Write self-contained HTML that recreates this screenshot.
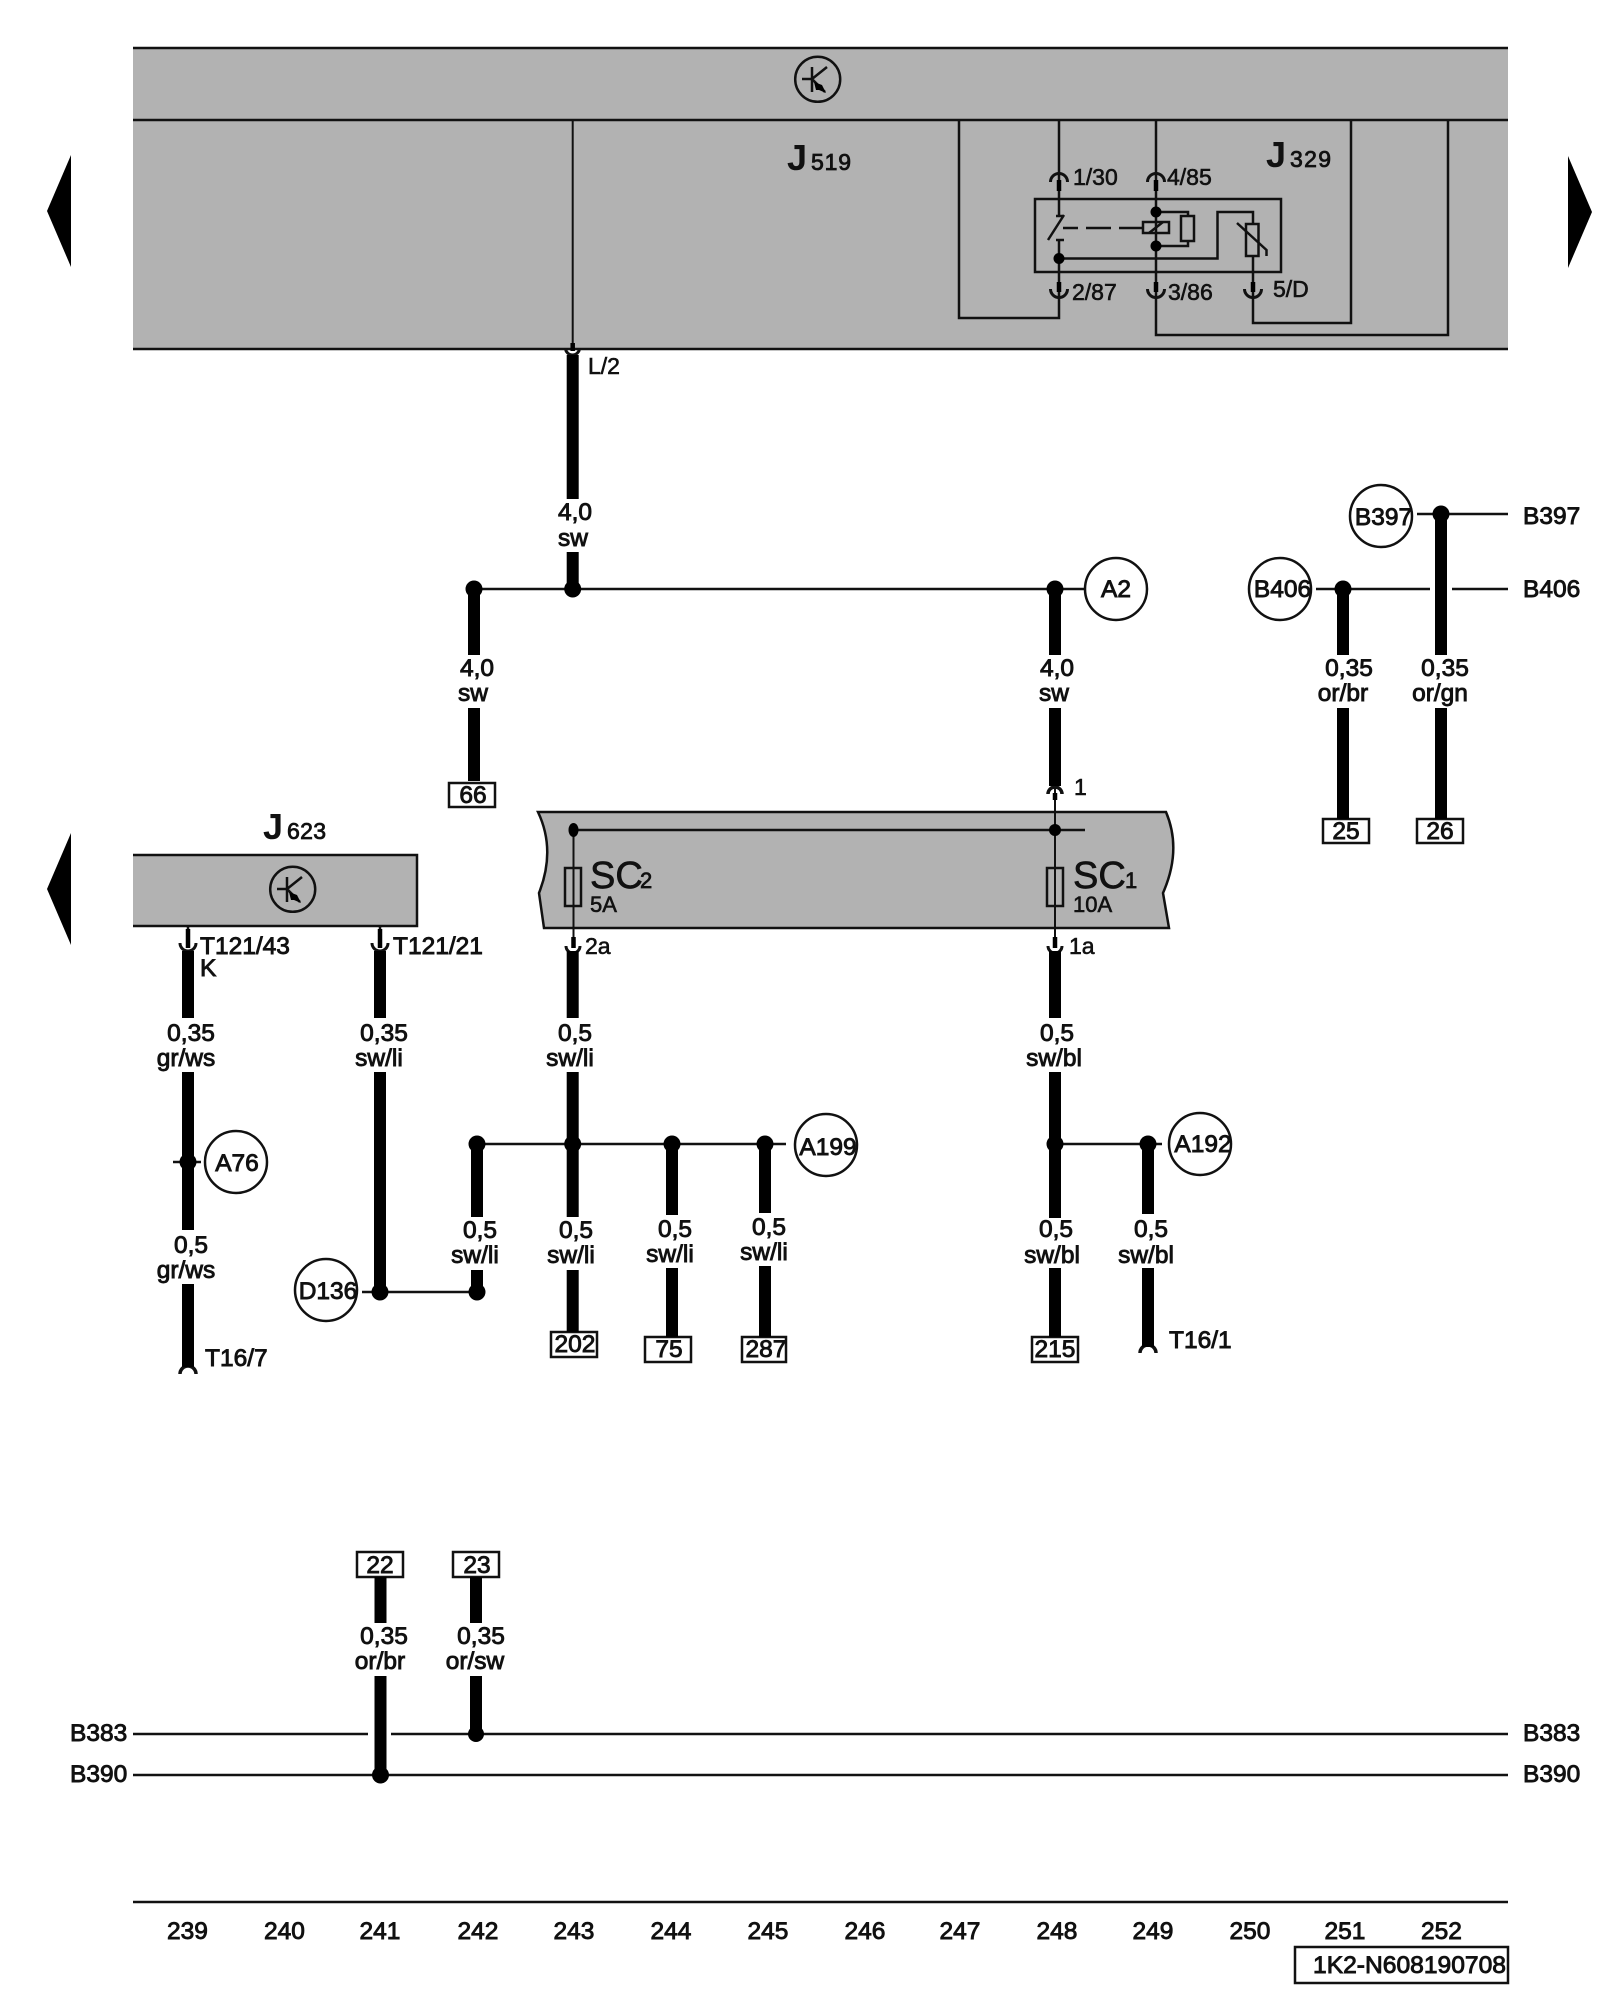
<!DOCTYPE html>
<html><head><meta charset="utf-8"><style>
html,body{margin:0;padding:0;background:#fff}
svg{display:block}
text{font-family:"Liberation Sans",sans-serif;fill:#111}
.b{font-size:24.5px;stroke:#111;stroke-width:.9px}
.m{font-size:24.5px;stroke:#111;stroke-width:.9px;text-anchor:middle}
.r{font-size:23px;stroke:#111;stroke-width:.6px}
.n{font-size:24.5px;stroke:#111;stroke-width:.9px;text-anchor:middle}
.s{font-size:23px;stroke:#111;stroke-width:.8px}
</style></head><body>
<svg width="1600" height="2000" viewBox="0 0 1600 2000" xmlns="http://www.w3.org/2000/svg">
<rect width="1600" height="2000" fill="#fff"/>
<!-- gray blocks -->
<rect x="133" y="48" width="1375" height="301" fill="#b2b2b2"/>
<rect x="133" y="855" width="284" height="71" fill="#b2b2b2"/>
<path d="M538 812 L1166 812 Q1182 850 1163 893 L1169 928 L544 928 L539 893 Q556 850 538 812 Z" fill="#b2b2b2" stroke="#111" stroke-width="2.5"/>
<!-- arrows -->
<g fill="#000">
<polygon points="47,211 71,155 71,267"/>
<polygon points="1592,212 1568,156 1568,268"/>
<polygon points="47,889 71,833 71,945"/>
</g>
<g fill="none" stroke="#111" stroke-width="2.5">
<path d="M133 48H1508M133 120H1508M133 349H1508"/>
<path d="M133 855H417V926H133"/>
<!-- J519 inner -->
<path d="M572.7 120V345" stroke-width="2"/>
<path d="M959 120V318H1059V240M1059 120V216M1156 120V335H1448V120M1253 256V323H1351V120"/>
<rect x="1035" y="199" width="246" height="73"/>
<path d="M1056 216H1064M1064 215L1048 240M1056 240H1064"/>
<path d="M1063 228H1078M1086 228H1111M1119 228H1143"/>
<rect x="1143" y="222" width="26" height="11"/>
<path d="M1149 233L1163 222M1156 212H1188V216M1156 246H1188V241"/>
<rect x="1181" y="216" width="13" height="25"/>
<path d="M1059 258.5H1217.5V212H1253V224"/>
<rect x="1246" y="224" width="12.5" height="32"/>
<path d="M1237 223L1266.5 250V256"/>
<!-- connector cups J329 -->
<path stroke-width="3" d="M1050.5 182A8.5 8.5 0 0 1 1067.5 182M1147.5 182A8.5 8.5 0 0 1 1164.5 182M1050.5 289A8.5 8.5 0 0 0 1067.5 289M1147.5 289A8.5 8.5 0 0 0 1164.5 289M1244.5 289A8.5 8.5 0 0 0 1261.5 289"/>
<!-- horizontal thin wires -->
<path d="M474 589H1085M1316 589H1430M1452 589H1508M1417 514H1508"/>
<path d="M477 1144H786M1055 1144H1162M362 1292H477"/>
<path d="M173 1162H201"/>
<path d="M133 1734H368M391 1734H1508M133 1775H1508M133 1902H1508"/>
<path d="M573.5 830H1085"/>
<path d="M573.5 830V937M1055 788V948" stroke-width="2"/>
<rect x="565" y="868" width="16" height="38"/>
<rect x="1047" y="868" width="16" height="38"/>
<!-- boxes -->
<rect x="449" y="783" width="46" height="24"/>
<rect x="551" y="1332" width="46" height="25"/>
<rect x="645" y="1337" width="46" height="25"/>
<rect x="742" y="1337" width="44" height="25"/>
<rect x="1032" y="1337" width="46" height="25"/>
<rect x="1323" y="819" width="46" height="24"/>
<rect x="1417" y="819" width="46" height="24"/>
<rect x="357" y="1552" width="46" height="25"/>
<rect x="453" y="1552" width="46" height="25"/>
<rect x="1295" y="1947" width="213" height="36"/>
<!-- circles -->
<circle cx="1116" cy="589" r="31" fill="#fff"/>
<circle cx="1381" cy="516" r="31" fill="#fff"/>
<circle cx="1280" cy="589" r="31" fill="#fff"/>
<circle cx="826" cy="1145" r="31" fill="#fff"/>
<circle cx="1200" cy="1144" r="31" fill="#fff"/>
<circle cx="236" cy="1162" r="31" fill="#fff"/>
<circle cx="326" cy="1290" r="31" fill="#fff"/>
<!-- transistor -->
<circle cx="817.7" cy="79.3" r="22.5"/>
<path d="M812 67V92M802 79H812M812 79L827 67M813 80L825 92"/>
<circle cx="292.7" cy="889.3" r="22.5"/>
<path d="M287 877V902M277 889H287M287 889L302 877M288 890L300 902"/>
<!-- cups -->
<path stroke-width="3" d="M566 946A7 7 0 0 0 580 946M1048 946A7 7 0 0 0 1062 946M180 943A8 8 0 0 0 196 943M372 943A8 8 0 0 0 388 943M565.5 348A7 7 0 0 0 579.5 348"/>
<path stroke-width="3.5" d="M1048 794A7 7 0 0 1 1062 794M180 1374A8 8 0 0 1 196 1374M1140 1353A8 8 0 0 1 1156 1353"/>
<path d="M188 926V945M380 926V945"/>
</g>
<!-- thick wires -->
<g stroke="#000" stroke-width="12" fill="none">
<path d="M572.7 355V499M572.7 552V589"/>
<path d="M474 589V655M474 708V781"/>
<path d="M1055 589V655M1055 708V786"/>
<path d="M1343 589V655M1343 708V819M1441 514V655M1441 708V819"/>
<path d="M188 951V1018M188 1072V1230M188 1284V1367"/>
<path d="M380 951V1018M380 1072V1292"/>
<path d="M477 1144V1217M477 1270V1292"/>
<path d="M572.7 951V1018M572.7 1072V1217M572.7 1270V1332"/>
<path d="M672 1144V1215M672 1268V1337M765 1144V1213M765 1266V1337"/>
<path d="M1055 951V1018M1055 1072V1218M1055 1268V1337"/>
<path d="M1148 1144V1214M1148 1268V1347"/>
<path d="M380.5 1577V1623M380.5 1676V1775M476 1577V1623M476 1676V1734"/>
</g>
<!-- stubs -->
<g stroke="#000" stroke-width="4.5" fill="none">
<path d="M1059 180V191M1156 180V191M1059 282V292M1156 282V292M1253 282V292"/>
<path d="M572.7 343V351M573.5 937V948M1055 793V800M1055 937V948M188 929V948M380 929V948"/>
</g>
<!-- dots -->
<g fill="#000">
<circle cx="572.7" cy="589" r="8.5"/><circle cx="474" cy="589" r="8.5"/><circle cx="1055" cy="589" r="8.5"/>
<circle cx="1343" cy="589" r="8.5"/><circle cx="1441" cy="514" r="8.5"/>
<circle cx="477" cy="1144" r="8.5"/><circle cx="572.7" cy="1144" r="8.5"/><circle cx="672" cy="1144" r="8.5"/><circle cx="765" cy="1144" r="8.5"/>
<circle cx="1055" cy="1144" r="8.5"/><circle cx="1148" cy="1144" r="8.5"/>
<circle cx="188" cy="1162" r="8.5"/><circle cx="380" cy="1292" r="8.5"/><circle cx="477" cy="1292" r="8.5"/>
<circle cx="380.5" cy="1775" r="8.5"/><circle cx="476" cy="1734" r="8"/>
<ellipse cx="573.5" cy="830" rx="5" ry="7"/><circle cx="1055" cy="830" r="6"/>
<circle cx="1156" cy="212" r="5.5"/><circle cx="1156" cy="246" r="5.5"/><circle cx="1059" cy="258.5" r="5.5"/>
<polygon points="814,82 822,85 826,93 819,90 816,90"/><polygon points="289,892 297,895 301,903 294,900 291,900"/>
</g>
<!-- J labels -->
<text x="787" y="170" font-size="36" font-weight="bold">J</text><text class="s" x="811" y="170" textLength="40">519</text>
<text x="1266" y="167" font-size="36" font-weight="bold">J</text><text class="s" x="1290" y="167" textLength="41">329</text>
<text x="263" y="839" font-size="36" font-weight="bold">J</text><text class="s" x="287" y="839" textLength="39">623</text>
<text class="r" x="1073" y="185">1/30</text><text class="r" x="1167" y="185">4/85</text>
<text class="r" x="1072" y="300">2/87</text><text class="r" x="1168" y="300">3/86</text><text class="r" x="1273" y="297">5/D</text>
<text class="r" x="588" y="374">L/2</text>
<!-- SC -->
<text x="590" y="888" font-size="38" stroke="#111" stroke-width=".7">SC</text><text x="640" y="888" font-size="22" stroke="#111" stroke-width=".7">2</text>
<text x="590" y="912" font-size="22" stroke="#111" stroke-width=".6">5A</text>
<text x="1073" y="888" font-size="38" stroke="#111" stroke-width=".7">SC</text><text x="1125" y="888" font-size="22" stroke="#111" stroke-width=".7">1</text>
<text x="1073" y="912" font-size="22" stroke="#111" stroke-width=".6">10A</text>
<text class="r" x="1074" y="795">1</text><text class="r" x="585" y="954">2a</text><text class="r" x="1069" y="954">1a</text>
<!-- wire labels -->
<text class="m" x="575" y="520">4,0</text><text class="m" x="573" y="546">sw</text>
<text class="m" x="477" y="676">4,0</text><text class="m" x="473" y="701">sw</text>
<text class="m" x="1057" y="676">4,0</text><text class="m" x="1054" y="701">sw</text>
<text class="m" x="1349" y="676">0,35</text><text class="m" x="1343" y="701">or/br</text>
<text class="m" x="1445" y="676">0,35</text><text class="m" x="1440" y="701">or/gn</text>
<text class="m" x="191" y="1041">0,35</text><text class="m" x="186" y="1066">gr/ws</text>
<text class="m" x="384" y="1041">0,35</text><text class="m" x="379" y="1066">sw/li</text>
<text class="m" x="575" y="1041">0,5</text><text class="m" x="570" y="1066">sw/li</text>
<text class="m" x="1057" y="1041">0,5</text><text class="m" x="1054" y="1066">sw/bl</text>
<text class="m" x="191" y="1253">0,5</text><text class="m" x="186" y="1278">gr/ws</text>
<text class="m" x="480" y="1238">0,5</text><text class="m" x="475" y="1263">sw/li</text>
<text class="m" x="576" y="1238">0,5</text><text class="m" x="571" y="1263">sw/li</text>
<text class="m" x="675" y="1237">0,5</text><text class="m" x="670" y="1262">sw/li</text>
<text class="m" x="769" y="1235">0,5</text><text class="m" x="764" y="1260">sw/li</text>
<text class="m" x="1056" y="1237">0,5</text><text class="m" x="1052" y="1263">sw/bl</text>
<text class="m" x="1151" y="1237">0,5</text><text class="m" x="1146" y="1263">sw/bl</text>
<text class="m" x="384" y="1644">0,35</text><text class="m" x="380" y="1669">or/br</text>
<text class="m" x="481" y="1644">0,35</text><text class="m" x="475" y="1669">or/sw</text>
<text class="b" x="200" y="954">T121/43</text><text class="b" x="200" y="976">K</text>
<text class="b" x="393" y="954">T121/21</text>
<text class="b" x="205" y="1366">T16/7</text><text class="b" x="1169" y="1348">T16/1</text>
<!-- circle labels -->
<text class="m" x="1116" y="597">A2</text>
<text class="m" x="1383.5" y="525">B397</text>
<text class="m" x="1282.5" y="597">B406</text>
<text class="m" x="828" y="1155">A199</text>
<text class="m" x="1203" y="1152">A192</text>
<text class="m" x="237" y="1171">A76</text>
<text class="m" x="328" y="1299">D136</text>
<!-- box labels -->
<text class="m" x="473" y="803">66</text><text class="m" x="575" y="1352">202</text><text class="m" x="669" y="1357">75</text><text class="m" x="766" y="1357">287</text><text class="m" x="1055" y="1357">215</text>
<text class="m" x="1346" y="839">25</text><text class="m" x="1440" y="839">26</text><text class="m" x="380" y="1573">22</text><text class="m" x="477" y="1573">23</text>
<!-- bus labels -->
<text class="b" x="1523" y="524">B397</text><text class="b" x="1523" y="597">B406</text>
<text class="b" x="70" y="1741">B383</text><text class="b" x="70" y="1782">B390</text>
<text class="b" x="1523" y="1741">B383</text><text class="b" x="1523" y="1782">B390</text>
<!-- axis -->
<text class="n" x="187.5" y="1939">239</text><text class="n" x="284.5" y="1939">240</text><text class="n" x="380" y="1939">241</text><text class="n" x="478" y="1939">242</text><text class="n" x="574" y="1939">243</text><text class="n" x="671" y="1939">244</text><text class="n" x="768" y="1939">245</text><text class="n" x="865" y="1939">246</text><text class="n" x="960" y="1939">247</text><text class="n" x="1057" y="1939">248</text><text class="n" x="1153" y="1939">249</text><text class="n" x="1250" y="1939">250</text><text class="n" x="1345" y="1939">251</text><text class="n" x="1441.5" y="1939">252</text>
<text class="b" x="1313" y="1973" textLength="193" lengthAdjust="spacingAndGlyphs">1K2-N608190708</text>
</svg>
</body></html>
